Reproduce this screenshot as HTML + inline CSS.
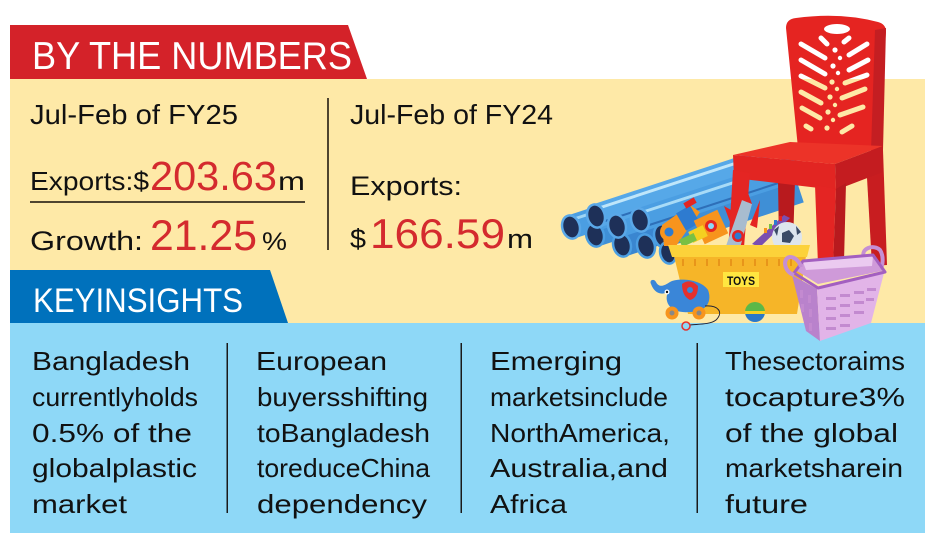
<!DOCTYPE html>
<html><head><meta charset="utf-8">
<style>
html,body{margin:0;padding:0;background:#fff;}
svg{display:block;}
text{font-family:"Liberation Sans",Arial,sans-serif;}
</style></head><body>
<svg width="935" height="544" viewBox="0 0 935 544" xmlns="http://www.w3.org/2000/svg">
<defs>
 <linearGradient id="bg" x1="0" y1="0" x2="0" y2="544" gradientUnits="userSpaceOnUse">
  <stop offset="0.1452" stop-color="#ffffff"/><stop offset="0.1452" stop-color="#fee9a7"/>
 </linearGradient>
 <linearGradient id="ball" x1="0" y1="0" x2="0" y2="1">
  <stop offset="0" stop-color="#5cb848"/><stop offset="0.45" stop-color="#5cb848"/>
  <stop offset="0.45" stop-color="#f5d020"/><stop offset="0.6" stop-color="#f5d020"/>
  <stop offset="0.6" stop-color="#2a78c8"/><stop offset="1" stop-color="#2a78c8"/>
 </linearGradient>
</defs>

<!-- panels -->
<rect x="10" y="79" width="915" height="244" fill="#fee9a7"/>
<rect x="10" y="323" width="915" height="210" fill="#8ed8f7"/>
<polygon points="10,25 348,25 367,79 10,79" fill="#d42229"/>
<polygon points="10,270 270,270 288,323 10,323" fill="#0071bc"/>

<text x="32" y="69" font-size="39" fill="#fff" textLength="320" lengthAdjust="spacingAndGlyphs">BY THE NUMBERS</text>
<text x="33" y="312" font-size="34" fill="#fff" textLength="210" lengthAdjust="spacingAndGlyphs">KEYINSIGHTS</text>

<!-- yellow section texts -->
<text x="30" y="124" font-size="28" fill="#111" textLength="208" lengthAdjust="spacingAndGlyphs">Jul-Feb of FY25</text>
<text x="30" y="190" font-size="26" fill="#111" textLength="119" lengthAdjust="spacingAndGlyphs">Exports:$</text>
<text x="150" y="190" font-size="41" fill="#d42a2e" textLength="127" lengthAdjust="spacingAndGlyphs">203.63</text>
<text x="278" y="190" font-size="26" fill="#111" textLength="27" lengthAdjust="spacingAndGlyphs">m</text>
<rect x="30" y="201" width="275" height="2" fill="#4f4530"/>
<text x="30" y="250" font-size="27" fill="#111" textLength="113" lengthAdjust="spacingAndGlyphs">Growth:</text>
<text x="150" y="250" font-size="43" fill="#d42a2e" textLength="107" lengthAdjust="spacingAndGlyphs">21.25</text>
<text x="262" y="250" font-size="25" fill="#111" textLength="25" lengthAdjust="spacingAndGlyphs">%</text>

<rect x="327" y="98" width="2" height="152" fill="#4f4530"/>

<text x="350" y="124" font-size="28" fill="#111" textLength="203" lengthAdjust="spacingAndGlyphs">Jul-Feb of FY24</text>
<text x="350" y="195" font-size="27" fill="#111" textLength="112" lengthAdjust="spacingAndGlyphs">Exports:</text>
<text x="350" y="248" font-size="27" fill="#111" textLength="16" lengthAdjust="spacingAndGlyphs">$</text>
<text x="370" y="248" font-size="42" fill="#d42a2e" textLength="135" lengthAdjust="spacingAndGlyphs">166.59</text>
<text x="507" y="248" font-size="27" fill="#111" textLength="26" lengthAdjust="spacingAndGlyphs">m</text>

<!-- pipes -->
<g stroke-linecap="butt">
 <g>
  <line x1="595" y1="235" x2="775" y2="176" stroke="#3f8fd6" stroke-width="24"/>
  <line x1="622" y1="245" x2="790" y2="190" stroke="#3a86d0" stroke-width="24"/>
  <line x1="663" y1="236" x2="800" y2="191" stroke="#3f8fd6" stroke-width="24"/>
  <line x1="571" y1="227" x2="750" y2="168" stroke="#4b9ee2" stroke-width="24"/>
  <line x1="571" y1="220" x2="750" y2="161" stroke="#9fd5f5" stroke-width="3"/>
  <line x1="617" y1="226" x2="790" y2="169" stroke="#4b9ee2" stroke-width="24"/>
  <line x1="617" y1="219" x2="790" y2="162" stroke="#a8dbf7" stroke-width="3"/>
  <line x1="596" y1="216" x2="770" y2="159" stroke="#56a8e8" stroke-width="24"/>
  <line x1="596" y1="209" x2="770" y2="152" stroke="#bfe6fa" stroke-width="3"/>
  <line x1="596" y1="224" x2="770" y2="167" stroke="#2e6fb8" stroke-width="2"/>
  <line x1="640" y1="220" x2="800" y2="168" stroke="#4b9ee2" stroke-width="24"/>
  <line x1="640" y1="213" x2="800" y2="161" stroke="#a8dbf7" stroke-width="3"/>
  <line x1="640" y1="228" x2="800" y2="176" stroke="#2e6fb8" stroke-width="2"/>
 </g>
 <g>
  <ellipse cx="595" cy="235" rx="10" ry="13" fill="#4b9ee2" transform="rotate(-15 595 235)"/>
  <ellipse cx="595" cy="235" rx="7.5" ry="10.5" fill="#1e3058" transform="rotate(-15 595 235)"/>
  <ellipse cx="622" cy="245" rx="10" ry="13" fill="#4b9ee2" transform="rotate(-15 622 245)"/>
  <ellipse cx="622" cy="245" rx="7.5" ry="10.5" fill="#1e3058" transform="rotate(-15 622 245)"/>
  <ellipse cx="646" cy="246" rx="10" ry="13" fill="#4b9ee2" transform="rotate(-15 646 246)"/>
  <ellipse cx="646" cy="246" rx="7.5" ry="10.5" fill="#1e3058" transform="rotate(-15 646 246)"/>
  <ellipse cx="663" cy="236" rx="10" ry="13" fill="#4b9ee2" transform="rotate(-15 663 236)"/>
  <ellipse cx="663" cy="236" rx="7.5" ry="10.5" fill="#1e3058" transform="rotate(-15 663 236)"/>
  <ellipse cx="668" cy="253" rx="9" ry="12" fill="#4b9ee2" transform="rotate(-15 668 253)"/>
  <ellipse cx="668" cy="253" rx="6.5" ry="9.5" fill="#1e3058" transform="rotate(-15 668 253)"/>
  <ellipse cx="571" cy="227" rx="10" ry="13" fill="#5aa8e8" transform="rotate(-15 571 227)"/>
  <ellipse cx="571" cy="227" rx="7.5" ry="10.5" fill="#1e3058" transform="rotate(-15 571 227)"/>
  <ellipse cx="617" cy="226" rx="10" ry="13" fill="#5aa8e8" transform="rotate(-15 617 226)"/>
  <ellipse cx="617" cy="226" rx="7.5" ry="10.5" fill="#1e3058" transform="rotate(-15 617 226)"/>
  <ellipse cx="596" cy="216" rx="10" ry="13" fill="#5aa8e8" transform="rotate(-15 596 216)"/>
  <ellipse cx="596" cy="216" rx="7.5" ry="10.5" fill="#1e3058" transform="rotate(-15 596 216)"/>
  <ellipse cx="640" cy="220" rx="10" ry="13" fill="#5aa8e8" transform="rotate(-15 640 220)"/>
  <ellipse cx="640" cy="220" rx="7.5" ry="10.5" fill="#1e3058" transform="rotate(-15 640 220)"/>
 </g>
</g>

<!-- chair -->
<g>
 <polygon points="778,180 795,180 793,245 779,245" fill="#b81a1e"/>
 <polygon points="866,160 883,150 887,265 872,266" fill="#c81d20"/>
 <path d="M786,28 Q786,19 796,18 Q840,12 878,22 Q886,24 886,32 L876,150 L798,148 Z" fill="#e52421"/>
 <polygon points="875,30 886,28 883,150 871,151" fill="#c41e22"/>
 <polygon points="733,155 790,142 883,146 835,164" fill="#ec3328"/>
 <polygon points="733,155 835,164 836,190 734,178" fill="#e22522"/>
 <polygon points="835,164 883,146 883,172 836,190" fill="#c41c20"/>
 <polygon points="733,170 750,173 742,272 727,270" fill="#e42523"/>
 <polygon points="815,185 836,189 833,265 818,265" fill="#e42523"/>
 <polygon points="836,189 846,183 844,262 833,265" fill="#b81a1e"/>
 <g stroke="url(#bg)" stroke-width="5" stroke-linecap="round" fill="none">
  <line x1="801" y1="44" x2="825" y2="58"/>
  <line x1="801" y1="60" x2="825" y2="74"/>
  <line x1="801" y1="76" x2="825" y2="88"/>
  <line x1="801" y1="92" x2="821" y2="103"/>
  <line x1="802" y1="108" x2="820" y2="118"/>
  <line x1="806" y1="126" x2="811" y2="129"/>
  <line x1="849" y1="55" x2="867" y2="44"/>
  <line x1="849" y1="70" x2="868" y2="60"/>
  <line x1="845" y1="83" x2="867" y2="75"/>
  <line x1="842" y1="98" x2="865" y2="89"/>
  <line x1="840" y1="115" x2="863" y2="107"/>
  <line x1="842" y1="132" x2="852" y2="126"/>
  <line x1="821" y1="38" x2="827" y2="44"/>
  <line x1="844" y1="42" x2="849" y2="38"/>
 </g>
 <g fill="url(#bg)">
  <ellipse cx="837" cy="29" rx="13" ry="5"/>
  <circle cx="835" cy="50" r="2.6"/><circle cx="840" cy="58" r="2.2"/>
  <circle cx="833" cy="66" r="2.6"/><circle cx="838" cy="73" r="2.2"/>
  <circle cx="832" cy="82" r="2.6"/><circle cx="837" cy="89" r="2.2"/>
  <circle cx="830" cy="97" r="2.6"/><circle cx="835" cy="105" r="2.2"/>
  <circle cx="828" cy="112" r="2.6"/><circle cx="833" cy="120" r="2.2"/>
  <circle cx="827" cy="128" r="2.6"/>
 </g>
</g>

<!-- toys above box -->
<g>
 <polygon points="662,225 690,205 700,212 676,246 664,246" fill="#f7941d"/>
 <rect x="680" y="208" width="16" height="20" fill="#2e7bd0" transform="rotate(-30 688 218)"/>
 <rect x="684" y="200" width="12" height="6" fill="#e52421" transform="rotate(-30 690 203)"/>
 <circle cx="669" cy="232" r="9" fill="#f7941d"/><circle cx="669" cy="232" r="4.5" fill="#2e7bd0"/>
 <rect x="698" y="214" width="26" height="26" fill="#f7941d" transform="rotate(-25 711 227)"/>
 <circle cx="711" cy="226" r="6" fill="#e52421"/><circle cx="711" cy="226" r="3" fill="#8ed8f7"/>
 <rect x="690" y="228" width="16" height="12" fill="#f5d020" transform="rotate(-25 698 234)"/>
 <rect x="680" y="236" width="16" height="8" fill="#7ac043" transform="rotate(-25 688 240)"/>
 <polygon points="726,246 742,200 752,204 740,248" fill="#a8bccf"/>
 <polygon points="742,200 747,190 752,204" fill="#e52421"/>
 <polygon points="730,222 724,206 731,210" fill="#e52421"/>
 <polygon points="750,225 760,200 757,228" fill="#e52421"/>
 <circle cx="738" cy="236" r="6" fill="#e52421"/><circle cx="738" cy="236" r="3.5" fill="#2e7bd0"/>
 <polygon points="752,244 784,215 790,218 760,247" fill="#7a4fb0"/>
 <g fill="#f7941d"><rect x="764" y="228" width="3" height="5"/><rect x="769" y="224" width="3" height="5" fill="#7ac043"/><rect x="774" y="220" width="3" height="5" fill="#2e7bd0"/><rect x="779" y="216" width="3" height="5" fill="#e52421"/></g>
 <circle cx="787" cy="237" r="15" fill="#dde5ee"/>
 <polygon points="782,233 789,230 794,236 790,243 782,242" fill="#3a4a66"/>
 <path d="M774,230 L779,226 L777,236 Z M796,226 L801,232 L797,235 Z" fill="#3a4a66"/>
</g>

<!-- toy box -->
<polygon points="674,256 806,256 797,314 688,314" fill="#f6b528"/>
<polygon points="668,245 810,245 807,257 672,257" fill="#fcd23a"/>
<g fill="#e8951a">
 <rect x="682" y="259" width="2" height="7"/><rect x="694" y="259" width="2" height="7"/><rect x="706" y="259" width="2" height="7"/><rect x="718" y="259" width="2" height="7"/><rect x="730" y="259" width="2" height="7"/><rect x="742" y="259" width="2" height="7"/><rect x="754" y="259" width="2" height="7"/><rect x="766" y="259" width="2" height="7"/><rect x="778" y="259" width="2" height="7"/><rect x="790" y="259" width="2" height="7"/>
</g>
<rect x="723" y="272" width="36" height="15" fill="#ffe640"/>
<text x="727" y="285" font-size="12" font-weight="bold" fill="#111" textLength="28" lengthAdjust="spacingAndGlyphs">TOYS</text>

<!-- elephant -->
<g>
 <path d="M690,312 C668,314 664,300 668,292 C660,296 654,292 651,284 C649,280 654,278 656,282 C659,288 664,286 670,282 C676,278 700,278 708,290 C712,300 708,312 690,312 Z" fill="#3a86d8"/>
 <path d="M682,284 Q690,278 698,286 Q698,298 690,300 Q682,296 682,284 Z" fill="#e5302d"/>
 <circle cx="690" cy="290" r="3" fill="#3a86d8"/>
 <circle cx="667" cy="292" r="2.5" fill="#fff"/><circle cx="667" cy="292" r="1.2" fill="#111"/>
 <circle cx="672" cy="313" r="6.5" fill="#f7941d"/><circle cx="672" cy="313" r="2.5" fill="#888"/>
 <circle cx="699" cy="313" r="6.5" fill="#f7941d"/><circle cx="699" cy="313" r="2.5" fill="#888"/>
 <path d="M705,306 C718,305 724,312 716,320 C710,325 695,324 690,325" stroke="#223" stroke-width="1" fill="none"/>
 <circle cx="686" cy="326" r="4" stroke="#e5302d" stroke-width="1.5" fill="none"/>
</g>
<circle cx="755" cy="312" r="10" fill="url(#ball)"/>

<!-- basket -->
<g>
 <path d="M864,258 C860,248 874,244 880,250 C884,256 883,266 880,270" stroke="#c58fd4" stroke-width="4" fill="none"/>
 <polygon points="792,275 817,289 820,341 806,331" fill="#b982cc"/>
 <polygon points="817,289 884,273 871,323 820,341" fill="#e2b4e8"/>
 <polygon points="797,271 803,262 873,256 882,271 818,284" fill="#cf9ad9"/>
 <polygon points="803,262 873,256 872,266 806,270" fill="#ebcaf0"/>
 <polygon points="794,273 803,261 873,255 885,272 818,288" stroke="#a35fc0" stroke-width="3" fill="none" stroke-linejoin="round"/>
 <path d="M794,275 C784,272 782,258 790,257 C796,257 800,263 801,267" stroke="#c58fd4" stroke-width="4" fill="none"/>
 <g fill="#c38ad0">
  <rect x="826" y="297" width="10" height="3"/><rect x="840" y="294" width="10" height="3"/><rect x="854" y="291" width="10" height="3"/><rect x="867" y="288" width="9" height="3"/>
  <rect x="826" y="307" width="10" height="3"/><rect x="840" y="304" width="10" height="3"/><rect x="854" y="301" width="10" height="3"/><rect x="866" y="298" width="8" height="3"/>
  <rect x="826" y="317" width="10" height="3"/><rect x="840" y="314" width="10" height="3"/><rect x="854" y="311" width="10" height="3"/>
  <rect x="826" y="327" width="10" height="3"/><rect x="840" y="324" width="10" height="3"/>
  <rect x="800" y="290" width="3" height="8"/><rect x="808" y="295" width="3" height="8"/><rect x="801" y="304" width="3" height="8"/><rect x="809" y="309" width="3" height="8"/><rect x="809" y="323" width="3" height="8"/>
 </g>
</g>

<!-- blue section separators -->
<g fill="#1a1a1a">
 <rect x="226.5" y="343" width="1.5" height="170"/>
 <rect x="460.5" y="343" width="1.5" height="170"/>
 <rect x="696.5" y="343" width="1.5" height="170"/>
</g>

<!-- blue section text -->
<g font-size="26" fill="#111">
 <text x="32" y="370" textLength="158" lengthAdjust="spacingAndGlyphs">Bangladesh</text>
 <text x="32" y="406" textLength="166" lengthAdjust="spacingAndGlyphs">currentlyholds</text>
 <text x="32" y="442" textLength="160" lengthAdjust="spacingAndGlyphs">0.5% of the</text>
 <text x="32" y="477" textLength="165" lengthAdjust="spacingAndGlyphs">globalplastic</text>
 <text x="32" y="513" textLength="95" lengthAdjust="spacingAndGlyphs">market</text>

 <text x="256" y="370" textLength="131" lengthAdjust="spacingAndGlyphs">European</text>
 <text x="257" y="406" textLength="171" lengthAdjust="spacingAndGlyphs">buyersshifting</text>
 <text x="257" y="442" textLength="173" lengthAdjust="spacingAndGlyphs">toBangladesh</text>
 <text x="257" y="477" textLength="173" lengthAdjust="spacingAndGlyphs">toreduceChina</text>
 <text x="257" y="513" textLength="170" lengthAdjust="spacingAndGlyphs">dependency</text>

 <text x="490" y="370" textLength="132" lengthAdjust="spacingAndGlyphs">Emerging</text>
 <text x="490" y="406" textLength="178" lengthAdjust="spacingAndGlyphs">marketsinclude</text>
 <text x="490" y="442" textLength="180" lengthAdjust="spacingAndGlyphs">NorthAmerica,</text>
 <text x="490" y="477" textLength="178" lengthAdjust="spacingAndGlyphs">Australia,and</text>
 <text x="490" y="513" textLength="77" lengthAdjust="spacingAndGlyphs">Africa</text>

 <text x="725" y="370" textLength="180" lengthAdjust="spacingAndGlyphs">Thesectoraims</text>
 <text x="725" y="406" textLength="180" lengthAdjust="spacingAndGlyphs">tocapture3%</text>
 <text x="725" y="442" textLength="173" lengthAdjust="spacingAndGlyphs">of the global</text>
 <text x="725" y="477" textLength="178" lengthAdjust="spacingAndGlyphs">marketsharein</text>
 <text x="725" y="513" textLength="83" lengthAdjust="spacingAndGlyphs">future</text>
</g>
</svg>
</body></html>
